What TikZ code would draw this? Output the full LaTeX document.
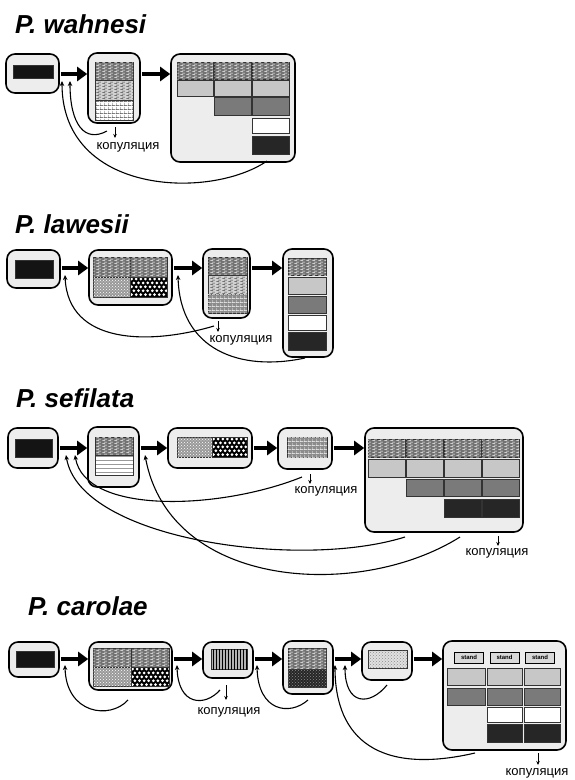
\documentclass[tikz,border=0pt]{standalone}
\usepackage{fontspec}
\setmainfont{Liberation Sans}
\usetikzlibrary{arrows.meta,fit,patterns,patterns.meta,calc}
\tikzdeclarepattern{
  name=txt,
  type=uncolored,
  bottom left={(0pt,0pt)},
  top right={(6pt,3pt)},
  tile size={(6pt,3pt)},
  code={
    \draw[line width=0.6pt] (0.4pt,0.8pt) -- (3.6pt,0.8pt);
    \draw[line width=0.6pt] (2.4pt,2.3pt) -- (5.6pt,2.3pt);
  }
}
\tikzdeclarepattern{
  name=cells,
  type=uncolored,
  bottom left={(0pt,0pt)},
  top right={(4pt,3.5pt)},
  tile size={(4pt,3.5pt)},
  code={
    \draw[line width=0.6pt] (0pt,0.3pt) -- (4pt,0.3pt);
    \draw[line width=0.6pt] (0.3pt,0pt) -- (0.3pt,3.5pt);
  }
}
\newcommand\holes[4]{%
  \begin{scope}
    \clip (#1,#2) rectangle (#3,#4);
    \fill[black] (#1,#2) rectangle (#3,#4);
    \foreach \j in {0,...,8}{\foreach \i in {0,...,16}{
      \fill[white] ({#1+1.6+\i*4.6+mod(\j,2)*2.3},{#2+2+\j*3.9}) circle[radius=1.5pt];}}
  \end{scope}
  \draw[cl] (#1,#2) rectangle (#3,#4);}
\newcommand\stripes[4]{%
  \begin{scope}
    \clip (#1,#2) rectangle (#3,#4);
    \fill[white] (#1,#2) rectangle (#3,#4);
    \foreach \j in {0,...,8}{\draw[black!40, line width=1.3pt] (#1,{#2+1.5+\j*4}) -- (#3,{#2+1.5+\j*4});}
  \end{scope}
  \draw[cl] (#1,#2) rectangle (#3,#4);}
\tikzset{
  box/.style={draw=black, line width=1.6pt, rounded corners=9pt, fill=black!7, inner sep=0pt},
  bigarrow/.style={line width=4.5pt, -{Triangle[length=10pt,width=14pt]}, shorten <=1pt},
  back/.style={line width=1.1pt, -{Stealth[length=5pt,width=4.5pt]}},
  kar/.style={line width=0.9pt, -{Stealth[length=4pt,width=3.5pt]}},
  kop/.style={font=\fontsize{13}{13}\selectfont, inner sep=0pt},
  title/.style={font=\fontsize{26}{26}\selectfont\bfseries\itshape, anchor=base west, inner sep=0pt},
  cl/.style={draw=black!80, line width=0.6pt},
  blk/.style={cl, fill=black!92},
  lgt/.style={cl, fill=black!22},
  mid/.style={cl, fill=black!52},
  drk/.style={cl, fill=black!85},
  wht/.style={cl, fill=white},
  tex/.style={cl, fill=black!55, postaction={pattern=txt, pattern color=white}},
  texb/.style={cl, fill=black!18, postaction={pattern=txt, pattern color=black!75}},
  cellp/.style={cl, fill=white, postaction={pattern=cells, pattern color=black!75}},
  stip/.style={cl, fill=black!40, postaction={pattern=crosshatch dots, pattern color=white}},
  grd/.style={cl, fill=black!45, postaction={pattern=cells, pattern color=white}},
  vln/.style={cl, fill=black!30, postaction={pattern=vertical lines, pattern color=black}},
  dnoise/.style={cl, fill=black!85, postaction={pattern=crosshatch dots, pattern color=black!45}},
  lspk/.style={cl, fill=black!12, postaction={pattern=crosshatch dots, pattern color=black!45}},
  stand/.style={draw=black, line width=1pt, fill=black!15, inner sep=0pt, minimum width=29pt, minimum height=11pt, font=\fontsize{6}{6}\selectfont\bfseries},
}
\begin{document}
\begin{tikzpicture}[x=1pt,y=-1pt]
\useasboundingbox (0,0) rectangle (575,780);
\fill[white] (0,0) rectangle (575,780);

% ================= P. wahnesi =================
\node[title] (tW) at (15,33) {P. wahnesi};
\coordinate (yW) at (0,74);
\node[box, fit={(6,54) (59,93)}] (w1) {};
\draw[blk] (13,65) rectangle (53,78);
\node[box, fit={(88,53) (140,123)}] (w2) {};
\draw[tex] (95,62) rectangle (133,80);
\draw[texb] (95,80) rectangle (133,100);
\draw[cellp] (95,100) rectangle (133,120);
\node[box, fit={(171,54) (295,162)}] (w3) {};
\foreach \a/\b in {177/213,214/251,252/289}{\draw[tex] (\a,62) rectangle (\b,79); \draw[lgt] (\a,80) rectangle (\b,96);}
\foreach \a/\b in {214/251,252/289}{\draw[mid] (\a,97) rectangle (\b,115);}
\draw[wht] (252,118) rectangle (289,133);
\draw[drk] (252,136) rectangle (289,154);
\draw[bigarrow] (w1.east |- yW) -- (w2.west |- yW);
\draw[bigarrow] (w2.east |- yW) -- (w3.west |- yW);
\node[kop] (wk) at (128,147) {копуляция};
\coordinate (wka) at (115,127);
\coordinate (wkb) at (115,138);
\draw[kar] (wka) -- (wkb);
\coordinate (wc1s) at (107,131);
\coordinate (wc1e) at (70,81);
\coordinate (wc2s) at (267,161);
\coordinate (wc2e) at (62,81);
\draw[back] (wc1s) .. controls (85,143) and (70,125) .. (wc1e);
\draw[back] (wc2s) .. controls (210,200) and (62,195) .. (wc2e);

% ================= P. lawesii =================
\node[title] (tL) at (15,233) {P. lawesii};
\coordinate (yL) at (0,268);
\node[box, fit={(7,250) (60,288)}] (l1) {};
\draw[blk] (15,260) rectangle (53,278);
\node[box, fit={(89,250) (172,305)}] (l2) {};
\draw[tex] (93,257) rectangle (130,277);
\draw[tex] (130,257) rectangle (167,277);
\draw[stip] (93,277) rectangle (130,297);
\holes{130}{277}{167}{297}
\node[box, fit={(203,249) (250,318)}] (l3) {};
\draw[tex] (208,257) rectangle (247,275);
\draw[texb] (208,275) rectangle (247,294);
\draw[grd] (208,294) rectangle (247,313);
\node[box, fit={(283,249) (333,357)}] (l4) {};
\draw[tex] (288,258) rectangle (326,275);
\draw[lgt] (288,277) rectangle (326,294);
\draw[mid] (288,296) rectangle (326,313);
\draw[wht] (288,315) rectangle (326,330);
\draw[drk] (288,332) rectangle (326,350);
\draw[bigarrow] (l1.east |- yL) -- (l2.west |- yL);
\draw[bigarrow] (l2.east |- yL) -- (l3.west |- yL);
\draw[bigarrow] (l3.east |- yL) -- (l4.west |- yL);
\node[kop] (lk) at (241,340) {копуляция};
\coordinate (lka) at (218,321);
\coordinate (lkb) at (218,332);
\draw[kar] (lka) -- (lkb);
\coordinate (lc1s) at (214,326);
\coordinate (lc1e) at (65,275);
\coordinate (lc2s) at (305,358);
\coordinate (lc2e) at (178,275);
\draw[back] (lc1s) .. controls (150,345) and (68,345) .. (lc1e);
\draw[back] (lc2s) .. controls (240,372) and (180,350) .. (lc2e);

% ================= P. sefilata =================
\node[title] (tS) at (16,407) {P. sefilata};
\coordinate (yS) at (0,448);
\node[box, fit={(8,428) (58,468)}] (s1) {};
\draw[blk] (15,439) rectangle (52,457);
\node[box, fit={(88,427) (139,487)}] (s2) {};
\draw[tex] (95,437) rectangle (133,455);
\stripes{95}{455}{133}{475}
\node[box, fit={(168,428) (252,468)}] (s3) {};
\draw[stip] (177,437) rectangle (212,457);
\holes{212}{437}{247}{457}
\node[box, fit={(278,428) (332,469)}] (s4) {};
\draw[grd] (287,437) rectangle (327,457);
\node[box, fit={(365,428) (523,532)}] (s5) {};
\foreach \a/\b in {368/405,406/443,444/481,482/519}{\draw[tex] (\a,439) rectangle (\b,457); \draw[lgt] (\a,459) rectangle (\b,477);}
\foreach \a/\b in {406/443,444/481,482/519}{\draw[mid] (\a,479) rectangle (\b,496);}
\foreach \a/\b in {444/481,482/519}{\draw[drk] (\a,499) rectangle (\b,517);}
\draw[bigarrow] (s1.east |- yS) -- (s2.west |- yS);
\draw[bigarrow] (s2.east |- yS) -- (s3.west |- yS);
\draw[bigarrow] (s3.east |- yS) -- (s4.west |- yS);
\draw[bigarrow] (s4.east |- yS) -- (s5.west |- yS);
\node[kop] (sk1) at (326,491) {копуляция};
\coordinate (sk1a) at (310,474);
\coordinate (sk1b) at (310,484);
\draw[kar] (sk1a) -- (sk1b);
\node[kop] (sk2) at (497,553) {копуляция};
\coordinate (sk2a) at (498,536);
\coordinate (sk2b) at (498,546);
\draw[kar] (sk2a) -- (sk2b);
\coordinate (scAs) at (302,477);
\coordinate (scAe) at (75,455);
\coordinate (scBs) at (405,537);
\coordinate (scBe) at (66,455);
\coordinate (scCs) at (460,537);
\coordinate (scCe) at (145,455);
\draw[back] (scAs) .. controls (220,510) and (85,515) .. (scAe);
\draw[back] (scBs) .. controls (300,570) and (80,540) .. (scBe);
\draw[back] (scCs) .. controls (360,600) and (170,590) .. (scCe);

% ================= P. carolae =================
\node[title] (tC) at (28,615) {P. carolae};
\coordinate (yC) at (0,659);
\node[box, fit={(9,642) (59,677)}] (c1) {};
\draw[blk] (16,651) rectangle (54,667);
\node[box, fit={(89,642) (172,690)}] (c2) {};
\draw[tex] (93,648) rectangle (131,667);
\draw[tex] (131,648) rectangle (169,667);
\draw[stip] (93,667) rectangle (131,686);
\holes{131}{667}{169}{686}
\node[box, fit={(203,642) (253,678)}] (c3) {};
\draw[vln] (211,649) rectangle (247,669);
\node[box, fit={(283,641) (333,694)}] (c4) {};
\draw[tex] (288,648) rectangle (326,669);
\draw[dnoise] (288,669) rectangle (326,687);
\node[box, fit={(362,642) (412,680)}] (c5) {};
\draw[lspk] (368,650) rectangle (407,668);
\node[box, fit={(443,641) (566,750)}] (c6) {};
\node[stand] (st1) at (469,657.5) {stand};
\node[stand] (st2) at (504.5,657.5) {stand};
\node[stand] (st3) at (540,657.5) {stand};
\foreach \a/\b in {447/485,487/522,524/560}{\draw[lgt] (\a,668) rectangle (\b,685); \draw[mid] (\a,688) rectangle (\b,705);}
\foreach \a/\b in {487/522,524/560}{\draw[wht] (\a,707) rectangle (\b,722); \draw[drk] (\a,724) rectangle (\b,742);}
\draw[bigarrow] (c1.east |- yC) -- (c2.west |- yC);
\draw[bigarrow] (c2.east |- yC) -- (c3.west |- yC);
\draw[bigarrow] (c3.east |- yC) -- (c4.west |- yC);
\draw[bigarrow] (c4.east |- yC) -- (c5.west |- yC);
\draw[bigarrow] (c5.east |- yC) -- (c6.west |- yC);
\node[kop] (ck1) at (229,712) {копуляция};
\coordinate (ck1a) at (226,685);
\coordinate (ck1b) at (226,700);
\draw[kar] (ck1a) -- (ck1b);
\node[kop] (ck2) at (537,773) {копуляция};
\coordinate (ck2a) at (538,753);
\coordinate (ck2b) at (538,765);
\draw[kar] (ck2a) -- (ck2b);
\coordinate (cc1s) at (128,700);
\coordinate (cc1e) at (65,665);
\coordinate (cc2s) at (220,690);
\coordinate (cc2e) at (177,665);
\coordinate (cc3s) at (308,700);
\coordinate (cc3e) at (257,665);
\coordinate (cc4s) at (387,685);
\coordinate (cc4e) at (345,665);
\coordinate (cc5s) at (475,753);
\coordinate (cc5e) at (335,665);
\draw[back] (cc1s) .. controls (110,720) and (66,714) .. (cc1e);
\draw[back] (cc2s) .. controls (205,707) and (178,706) .. (cc2e);
\draw[back] (cc3s) .. controls (290,716) and (258,712) .. (cc3e);
\draw[back] (cc4s) .. controls (370,706) and (345,706) .. (cc4e);
\draw[back] (cc5s) .. controls (380,775) and (335,740) .. (cc5e);
\end{tikzpicture}
\end{document}
